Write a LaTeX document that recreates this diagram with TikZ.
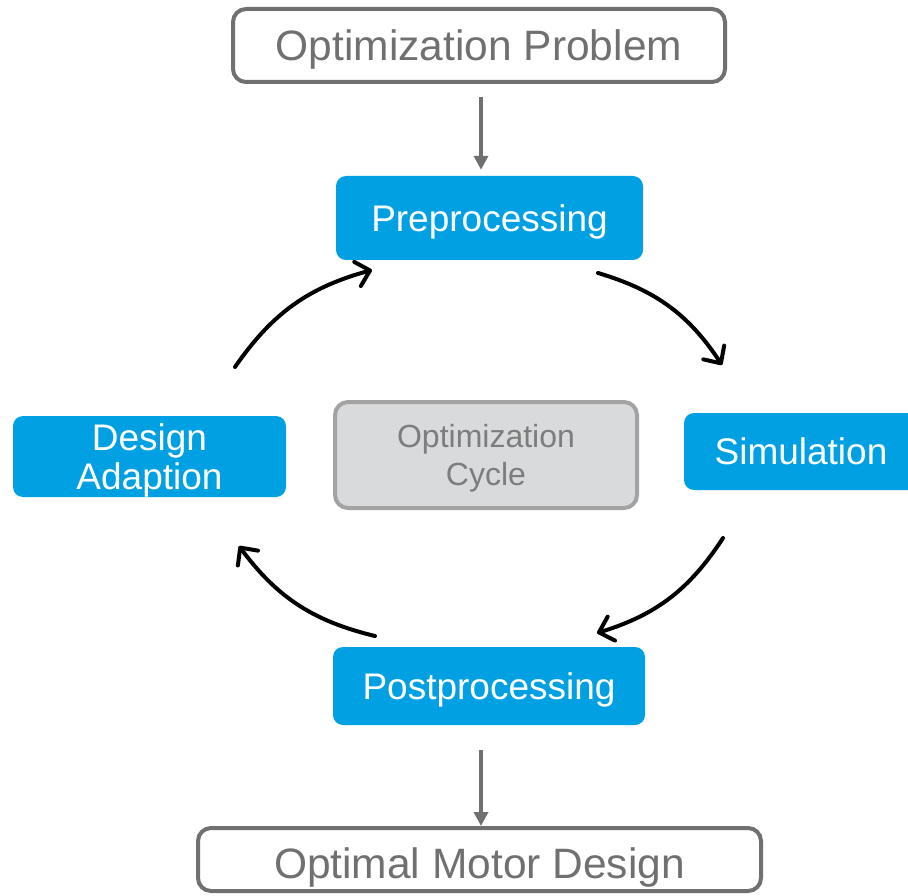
\documentclass[tikz,border=0pt]{standalone}
\usepackage{fontspec}
\setmainfont{Liberation Sans}
\usetikzlibrary{arrows.meta}
\definecolor{stageblue}{RGB}{0,160,227}
\definecolor{edgegray}{RGB}{112,112,112}
\definecolor{cyclefill}{RGB}{217,218,220}
\definecolor{cycleline}{RGB}{163,163,163}
\definecolor{cycletext}{RGB}{125,125,125}
\begin{document}
\begin{tikzpicture}[x=1pt,y=-1pt,
  endbox/.style={draw=edgegray, line width=4pt, rounded corners=13pt, fill=white,
    text=edgegray, font=\fontsize{42.5}{50}\selectfont, inner sep=0pt,
    text height=30.4pt, text depth=0pt},
  stagebox/.style={fill=stageblue, rounded corners=10pt, text=white,
    font=\fontsize{37}{39}\selectfont, inner sep=0pt, align=center,
    text height=26.5pt, text depth=0pt},
  cyclebox/.style={draw=cycleline, line width=4pt, rounded corners=13pt, fill=cyclefill,
    text=cycletext, font=\fontsize{32}{38}\selectfont, inner sep=0pt, align=center,
    text height=60.9pt, text depth=0pt},
  garrow/.style={draw=edgegray, line width=3.5pt, -{Triangle[length=14pt,width=14pt]}},
  cyclearrow/.style={draw=black, line width=4pt, line cap=round,
    -{Straight Barb[length=13pt,width=25pt,round]}}
]
\useasboundingbox (0,0) rectangle (908,896);
\clip (0,0) rectangle (908,896);

% start and end of the flow
\node[endbox, minimum width=492pt, minimum height=73pt] (prob) at (479,45.5) {Optimization Problem};
\node[endbox, minimum width=563pt, minimum height=63pt, text height=38.4pt] (opt) at (479.5,859.5) {Optimal Motor Design};

% the four stages of the cycle
\node[stagebox, minimum width=307pt, minimum height=84pt] (pre) at (489.5,218) {Preprocessing};
\node[stagebox, minimum width=234pt, minimum height=77pt] (sim) at (801,451.5) {Simulation};
\node[stagebox, minimum width=312pt, minimum height=78pt] (post) at (489,686) {Postprocessing};
\node[stagebox, minimum width=273pt, minimum height=81pt, text height=65.5pt] (des) at (149.5,456.5) {Design\\Adaption};

% label in the middle of the cycle
\node[cyclebox, minimum width=302pt, minimum height=106pt] (cyc) at (486,455) {Optimization\\Cycle};

% entry and exit arrows
\draw[garrow] ([xshift=2pt,yshift=-13pt]prob.south) -- ([xshift=2pt,yshift=6pt]prob.south |- pre.north);
\draw[garrow] ([xshift=1.5pt,yshift=-25pt]post.south -| opt.north) -- ([xshift=1.5pt]opt.north);

% curved arrows of the cycle
\coordinate (a1s) at (235,367);
\coordinate (a1e) at (372,270);
\coordinate (a2s) at (598,273);
\coordinate (a2e) at (722,365);
\coordinate (a3s) at (723,538);
\coordinate (a3e) at (597,633);
\coordinate (a4s) at (375,636);
\coordinate (a4e) at (239,546);
\draw[cyclearrow] (a1s) to[bend left=20] (a1e);
\draw[cyclearrow] (a2s) to[bend left=20] (a2e);
\draw[cyclearrow] (a3s) to[bend left=20] (a3e);
\draw[cyclearrow] (a4s) to[bend left=20] (a4e);
\end{tikzpicture}
\end{document}
